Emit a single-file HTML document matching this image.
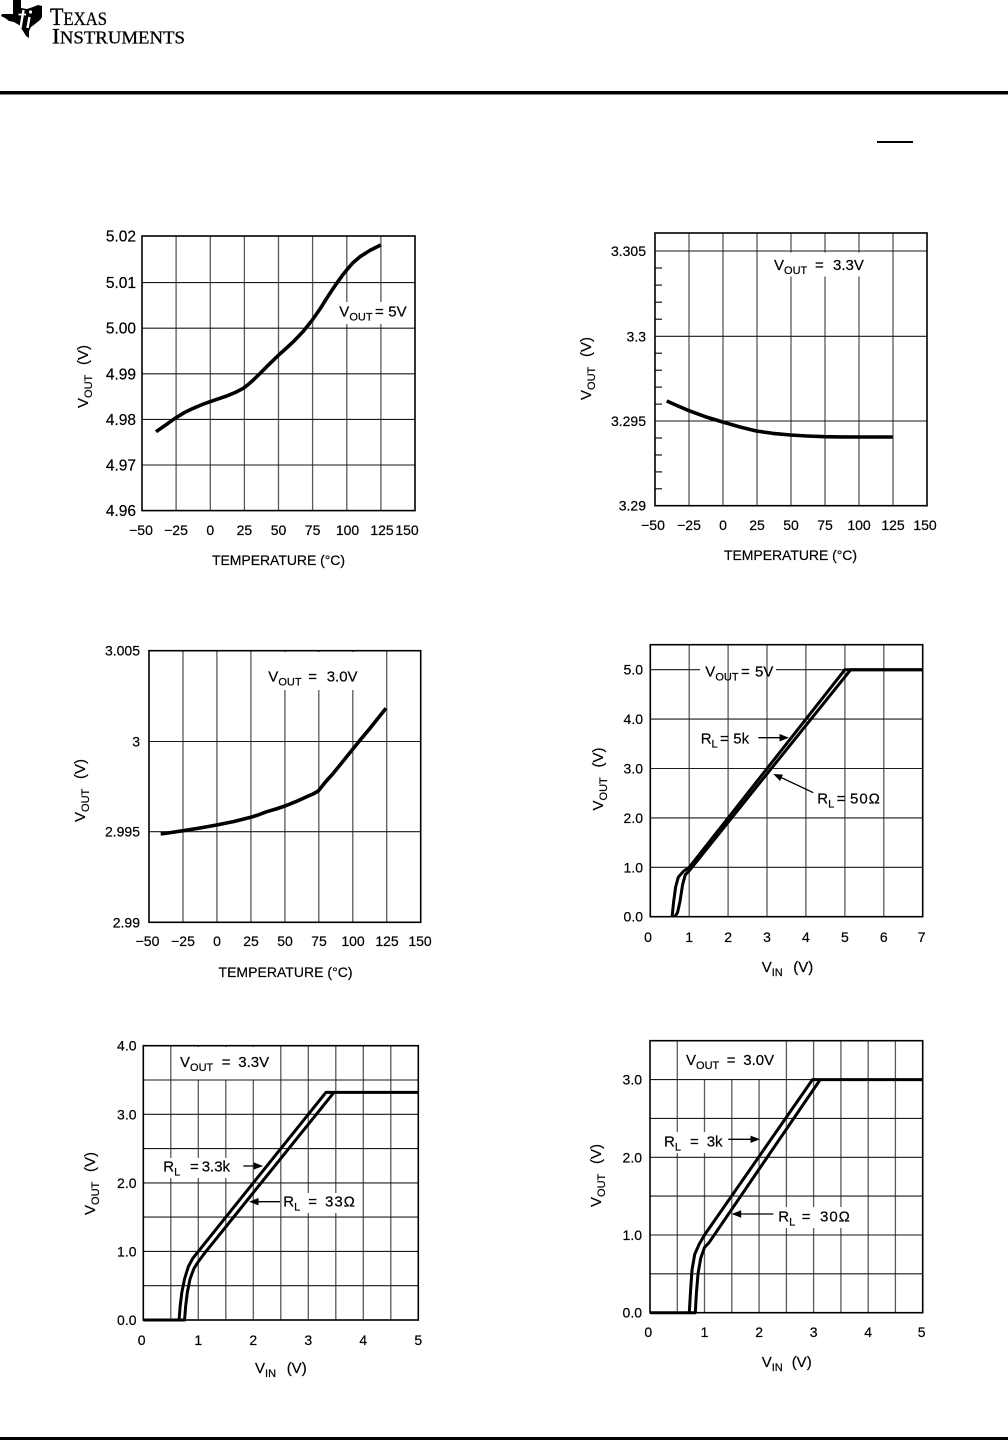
<!DOCTYPE html>
<html><head><meta charset="utf-8"><style>
html,body{margin:0;padding:0;background:#fff;}
svg{display:block;}
.gv{stroke:#5a5a5a;stroke-width:1.3;}
.gh{stroke:#1a1a1a;stroke-width:1.1;}
.bx{fill:none;stroke:#000;stroke-width:1.6;}
.tc{fill:none;stroke:#000;stroke-width:3.6;stroke-linejoin:round;stroke-linecap:butt;}
.vc{fill:none;stroke:#000;stroke-width:3;stroke-linejoin:round;stroke-linecap:butt;}
text{font-family:"Liberation Sans",Arial,sans-serif;fill:#000;stroke:#000;stroke-width:0.2px;}
.tk{font-size:14px;}
.lb{font-size:15px;}
.sb{font-size:11px;}
</style></head><body>
<svg width="1008" height="1440" viewBox="0 0 1008 1440" xmlns="http://www.w3.org/2000/svg">
<!-- Header -->
<polygon points="13,0 21,0 21,8 27,9 33,7 38,5 42,6 42,17 40,20 35,24 31,27 29,31 29,38 26,36 23,31 19,25 14,22 9,21 5,18 1,16 2,14 13,14" fill="#000"/>
<line x1="23.5" y1="10" x2="20.5" y2="28" stroke="#fff" stroke-width="2.4"/>
<line x1="18.5" y1="14.5" x2="26" y2="14.5" stroke="#fff" stroke-width="1.8"/>
<line x1="29.5" y1="17" x2="27.5" y2="28" stroke="#fff" stroke-width="2.4"/>
<circle cx="30.5" cy="12" r="1.6" fill="#fff"/>
<text x="50" y="25" textLength="57" lengthAdjust="spacingAndGlyphs" style="font-family:'Liberation Serif',serif;stroke-width:0.3px;"><tspan font-size="25">T</tspan><tspan font-size="19">EXAS</tspan></text>
<text x="52" y="43.3" textLength="133" lengthAdjust="spacingAndGlyphs" style="font-family:'Liberation Serif',serif;stroke-width:0.3px;"><tspan font-size="22">I</tspan><tspan font-size="17.5">NSTRUMENTS</tspan></text>
<rect x="0" y="91" width="1008" height="3.5" fill="#000"/>
<rect x="877" y="141" width="36" height="2" fill="#000"/>
<rect x="0" y="1437" width="1008" height="3" fill="#000"/>

<!-- ========== Chart 1 ========== -->
<g>
<line class="gv" x1="176.1" y1="236" x2="176.1" y2="510.6"/>
<line class="gv" x1="210.3" y1="236" x2="210.3" y2="510.6"/>
<line class="gv" x1="244.4" y1="236" x2="244.4" y2="510.6"/>
<line class="gv" x1="278.5" y1="236" x2="278.5" y2="510.6"/>
<line class="gv" x1="312.6" y1="236" x2="312.6" y2="510.6"/>
<line class="gv" x1="346.8" y1="236" x2="346.8" y2="510.6"/>
<line class="gv" x1="380.9" y1="236" x2="380.9" y2="510.6"/>
<line class="gh" x1="142" y1="282.6" x2="415" y2="282.6"/>
<line class="gh" x1="142" y1="328.2" x2="415" y2="328.2"/>
<line class="gh" x1="142" y1="373.8" x2="415" y2="373.8"/>
<line class="gh" x1="142" y1="419.4" x2="415" y2="419.4"/>
<line class="gh" x1="142" y1="465" x2="415" y2="465"/>
<rect class="bx" x="142" y="236" width="273" height="274.6"/>
<rect x="336" y="302" width="73" height="22" fill="#fff"/>
<polyline class="tc" points="156,431.7 165,425.5 175,418.3 184,412.8 193.3,408.3 202,404.6 210,401.7 218,398.9 226.7,396 235,392.6 243.3,388.3 248,384.7 253.3,380 260,373.5 266.7,366.7 272.7,360.8 278.7,355 286,348.5 293.3,341.7 303,331.6 312.3,320 320,309 326.7,298.3 331.7,290.6 336.7,283.3 341.7,276.3 346.7,270 353,262.7 360,256.7 370,250.4 380.7,245"/>
<text class="lb" x="339.3" y="316.7">V<tspan class="sb" dy="4">OUT</tspan><tspan x="375" dy="-4">=</tspan><tspan x="388.3">5V</tspan></text>
<g text-anchor="end">
<text x="136" y="241.5" font-size="15.5">5.02</text>
<text x="136" y="288.1" font-size="15.5">5.01</text>
<text x="136" y="333.7" font-size="15.5">5.00</text>
<text x="136" y="379.3" font-size="15.5">4.99</text>
<text x="136" y="424.9" font-size="15.5">4.98</text>
<text x="136" y="470.5" font-size="15.5">4.97</text>
<text x="136" y="516.1" font-size="15.5">4.96</text>
</g>
<g text-anchor="middle">
<text class="tk" x="141" y="535">−50</text>
<text class="tk" x="176" y="535">−25</text>
<text class="tk" x="210.3" y="535">0</text>
<text class="tk" x="244.4" y="535">25</text>
<text class="tk" x="278.5" y="535">50</text>
<text class="tk" x="312.6" y="535">75</text>
<text class="tk" x="347.5" y="535">100</text>
<text class="tk" x="382" y="535">125</text>
<text class="tk" x="407" y="535">150</text>
<text class="tk" x="278.5" y="565" textLength="133">TEMPERATURE (°C)</text>
</g>
<g transform="translate(88,408) rotate(-90)"><text class="lb" x="0" y="0">V<tspan class="sb" dy="4">OUT</tspan><tspan x="43" dy="-4">(V)</tspan></text></g>
</g>

<!-- ========== Chart 2 ========== -->
<g>
<line class="gv" x1="689" y1="233" x2="689" y2="505.7"/>
<line class="gv" x1="723" y1="233" x2="723" y2="505.7"/>
<line class="gv" x1="757" y1="233" x2="757" y2="505.7"/>
<line class="gv" x1="791" y1="233" x2="791" y2="505.7"/>
<line class="gv" x1="825" y1="233" x2="825" y2="505.7"/>
<line class="gv" x1="859" y1="233" x2="859" y2="505.7"/>
<line class="gv" x1="893" y1="233" x2="893" y2="505.7"/>
<rect x="769" y="252.5" width="103" height="24" fill="#fff"/>
<line class="gh" x1="655" y1="251" x2="927" y2="251"/>
<line class="gh" x1="655" y1="336.3" x2="927" y2="336.3"/>
<line class="gh" x1="655" y1="421" x2="927" y2="421"/>
<g stroke="#000" stroke-width="1.1">
<line x1="655" y1="268" x2="662" y2="268"/><line x1="655" y1="285.1" x2="662" y2="285.1"/><line x1="655" y1="302.2" x2="662" y2="302.2"/><line x1="655" y1="319.2" x2="662" y2="319.2"/>
<line x1="655" y1="353.2" x2="662" y2="353.2"/><line x1="655" y1="370.2" x2="662" y2="370.2"/><line x1="655" y1="387.1" x2="662" y2="387.1"/><line x1="655" y1="404.1" x2="662" y2="404.1"/>
<line x1="655" y1="438" x2="662" y2="438"/><line x1="655" y1="455" x2="662" y2="455"/><line x1="655" y1="471.9" x2="662" y2="471.9"/><line x1="655" y1="488.8" x2="662" y2="488.8"/>
</g>
<rect class="bx" x="655" y="233" width="272" height="272.7"/>
<polyline class="tc" points="666.7,401 678,406 689,410.7 705,416.6 722.7,422 740,427 756.3,431 773,433.4 790.3,435 807,436 824.7,436.7 840,436.9 858.3,437 892.7,437"/>
<text class="lb" x="774" y="270">V<tspan class="sb" dy="4">OUT</tspan><tspan x="815" dy="-4">=</tspan><tspan x="833">3.3V</tspan></text>
<g text-anchor="end">
<text class="tk" x="646" y="256">3.305</text>
<text class="tk" x="646" y="341.3">3.3</text>
<text class="tk" x="646" y="426">3.295</text>
<text class="tk" x="646" y="510.7">3.29</text>
</g>
<g text-anchor="middle">
<text class="tk" x="653" y="530">−50</text>
<text class="tk" x="689" y="530">−25</text>
<text class="tk" x="723" y="530">0</text>
<text class="tk" x="757" y="530">25</text>
<text class="tk" x="791" y="530">50</text>
<text class="tk" x="825" y="530">75</text>
<text class="tk" x="859" y="530">100</text>
<text class="tk" x="893" y="530">125</text>
<text class="tk" x="925" y="530">150</text>
<text class="tk" x="790.5" y="560" textLength="133">TEMPERATURE (°C)</text>
</g>
<g transform="translate(591,400) rotate(-90)"><text class="lb" x="0" y="0">V<tspan class="sb" dy="4">OUT</tspan><tspan x="43" dy="-4">(V)</tspan></text></g>
</g>

<!-- ========== Chart 3 ========== -->
<g>
<line class="gv" x1="183" y1="650.7" x2="183" y2="922.3"/>
<line class="gv" x1="216.9" y1="650.7" x2="216.9" y2="922.3"/>
<line class="gv" x1="250.9" y1="650.7" x2="250.9" y2="922.3"/>
<line class="gv" x1="284.9" y1="650.7" x2="284.9" y2="922.3"/>
<line class="gv" x1="318.8" y1="650.7" x2="318.8" y2="922.3"/>
<line class="gv" x1="352.8" y1="650.7" x2="352.8" y2="922.3"/>
<line class="gv" x1="386.7" y1="650.7" x2="386.7" y2="922.3"/>
<rect x="264" y="652" width="98" height="38" fill="#fff"/>
<line class="gh" x1="149" y1="741.5" x2="420.7" y2="741.5"/>
<line class="gh" x1="149" y1="831.7" x2="420.7" y2="831.7"/>
<rect class="bx" x="149" y="650.7" width="271.7" height="271.6"/>
<polyline class="tc" points="160.7,834 172,832.4 183.3,830.7 200,828 216.7,825 234,821.5 250.7,817.3 258,815 266.7,811.7 276,809 285,806 296,801.6 306.7,796.7 313,794 318.3,791 325,782.5 333.3,773.3 343,761.3 352.7,749.3 361,739 370,728.3 378,718.3 386,708.3"/>
<text class="lb" x="268.3" y="681.7">V<tspan class="sb" dy="4">OUT</tspan><tspan x="308.3" dy="-4">=</tspan><tspan x="326.7">3.0V</tspan></text>
<g text-anchor="end">
<text class="tk" x="140" y="655.7">3.005</text>
<text class="tk" x="140" y="746.5">3</text>
<text class="tk" x="140" y="836.7">2.995</text>
<text class="tk" x="140" y="927.3">2.99</text>
</g>
<g text-anchor="middle">
<text class="tk" x="147.5" y="946">−50</text>
<text class="tk" x="183" y="946">−25</text>
<text class="tk" x="217" y="946">0</text>
<text class="tk" x="251" y="946">25</text>
<text class="tk" x="285" y="946">50</text>
<text class="tk" x="319" y="946">75</text>
<text class="tk" x="353" y="946">100</text>
<text class="tk" x="387" y="946">125</text>
<text class="tk" x="420" y="946">150</text>
<text class="tk" x="285.5" y="977" textLength="134">TEMPERATURE (°C)</text>
</g>
<g transform="translate(85,822) rotate(-90)"><text class="lb" x="0" y="0">V<tspan class="sb" dy="4">OUT</tspan><tspan x="43" dy="-4">(V)</tspan></text></g>
</g>

<!-- ========== Chart 4 ========== -->
<g>
<line class="gv" x1="689.2" y1="644.7" x2="689.2" y2="916.7"/>
<line class="gv" x1="728.1" y1="644.7" x2="728.1" y2="916.7"/>
<line class="gv" x1="767" y1="644.7" x2="767" y2="916.7"/>
<line class="gv" x1="805.9" y1="644.7" x2="805.9" y2="916.7"/>
<line class="gv" x1="844.9" y1="644.7" x2="844.9" y2="916.7"/>
<line class="gv" x1="883.8" y1="644.7" x2="883.8" y2="916.7"/>
<line class="gh" x1="650.3" y1="867.3" x2="922.7" y2="867.3"/>
<line class="gh" x1="650.3" y1="817.9" x2="922.7" y2="817.9"/>
<line class="gh" x1="650.3" y1="768.5" x2="922.7" y2="768.5"/>
<line class="gh" x1="650.3" y1="719.1" x2="922.7" y2="719.1"/>
<line class="gh" x1="650.3" y1="669.7" x2="700" y2="669.7"/>
<line class="gh" x1="776" y1="669.7" x2="922.7" y2="669.7"/>
<rect class="bx" x="650.3" y="644.7" width="272.4" height="272"/>
<polyline class="vc" points="672.1,916.7 673.6,901.9 675.6,887.1 678.3,877.2 683.4,871.3 689.2,867.3 844.9,669.7 922.7,669.7"/>
<polyline class="vc" points="674.8,916.7 677.5,912.7 679.9,901.9 682.6,884.6 685.3,874.7 689.2,870.8 850.7,669.7 922.7,669.7"/>
<text class="lb" x="705.3" y="676.7">V<tspan class="sb" dy="4">OUT</tspan><tspan x="741" dy="-4">=</tspan><tspan x="755">5V</tspan></text>
<text class="lb" x="700.7" y="743.3">R<tspan class="sb" dy="4">L</tspan><tspan x="720" dy="-4">=</tspan><tspan x="733.3">5k</tspan></text>
<line x1="758.3" y1="737.7" x2="781" y2="737.7" stroke="#000" stroke-width="1.3"/>
<polygon points="789,737.7 779.5,734 779.5,741.4" fill="#000"/>
<text class="lb" x="817.3" y="803.3">R<tspan class="sb" dy="4">L</tspan><tspan x="836.7" dy="-4">=</tspan><tspan x="850" letter-spacing="1">50Ω</tspan></text>
<line x1="813.3" y1="792.7" x2="780" y2="777" stroke="#000" stroke-width="1.3"/>
<polygon points="773.3,774 783,774.6 780,781" fill="#000"/>
<g text-anchor="end">
<text class="tk" x="643" y="674.7">5.0</text>
<text class="tk" x="643" y="724.1">4.0</text>
<text class="tk" x="643" y="773.5">3.0</text>
<text class="tk" x="643" y="822.9">2.0</text>
<text class="tk" x="643" y="872.3">1.0</text>
<text class="tk" x="643" y="921.7">0.0</text>
</g>
<g text-anchor="middle">
<text class="tk" x="648" y="942">0</text>
<text class="tk" x="689.2" y="942">1</text>
<text class="tk" x="728.1" y="942">2</text>
<text class="tk" x="767" y="942">3</text>
<text class="tk" x="805.9" y="942">4</text>
<text class="tk" x="844.9" y="942">5</text>
<text class="tk" x="883.8" y="942">6</text>
<text class="tk" x="921.7" y="942">7</text>
</g>
<text class="lb" x="761.7" y="972">V<tspan class="sb" dy="4">IN</tspan><tspan x="793.3" dy="-4">(V)</tspan></text>
<g transform="translate(603,810.5) rotate(-90)"><text class="lb" x="0" y="0">V<tspan class="sb" dy="4">OUT</tspan><tspan x="43" dy="-4">(V)</tspan></text></g>
</g>

<!-- ========== Chart 5 ========== -->
<g>
<line class="gv" x1="170.8" y1="1045.7" x2="170.8" y2="1320"/>
<line class="gv" x1="198.3" y1="1045.7" x2="198.3" y2="1320"/>
<line class="gv" x1="225.8" y1="1045.7" x2="225.8" y2="1320"/>
<line class="gv" x1="253.3" y1="1045.7" x2="253.3" y2="1320"/>
<line class="gv" x1="280.8" y1="1045.7" x2="280.8" y2="1320"/>
<line class="gv" x1="308.3" y1="1045.7" x2="308.3" y2="1320"/>
<line class="gv" x1="335.8" y1="1045.7" x2="335.8" y2="1320"/>
<line class="gv" x1="363.3" y1="1045.7" x2="363.3" y2="1320"/>
<line class="gv" x1="390.8" y1="1045.7" x2="390.8" y2="1320"/>
<rect x="175" y="1047" width="100" height="32.5" fill="#fff"/>
<rect x="161" y="1158" width="82" height="20" fill="#fff"/>
<rect x="282" y="1193" width="76" height="20" fill="#fff"/>
<line class="gh" x1="143.3" y1="1285.7" x2="418.3" y2="1285.7"/>
<line class="gh" x1="143.3" y1="1251.4" x2="418.3" y2="1251.4"/>
<line class="gh" x1="143.3" y1="1217.1" x2="418.3" y2="1217.1"/>
<line class="gh" x1="143.3" y1="1182.9" x2="418.3" y2="1182.9"/>
<line class="gh" x1="143.3" y1="1148.6" x2="418.3" y2="1148.6"/>
<line class="gh" x1="143.3" y1="1114.3" x2="418.3" y2="1114.3"/>
<line class="gh" x1="143.3" y1="1080" x2="418.3" y2="1080"/>
<rect class="bx" x="143.3" y="1045.7" width="275" height="274.3"/>
<polyline class="vc" points="143.3,1320 179.05,1320 180.15,1306.3 181.8,1292.6 184.55,1278.9 188.4,1266.5 192.8,1258.3 198.3,1251.4 325.9,1092.4 418.3,1092.4"/>
<polyline class="vc" points="179,1320 184.55,1320 185.65,1306.3 187.3,1292.6 190.05,1278.9 193.9,1268.6 198.3,1261.7 203.8,1254.2 333.95,1092.4"/>
<text class="lb" x="180" y="1067">V<tspan class="sb" dy="4">OUT</tspan><tspan x="221.7" dy="-4">=</tspan><tspan x="238.3">3.3V</tspan></text>
<text class="lb" x="163.3" y="1171.7">R<tspan class="sb" dy="4">L</tspan><tspan x="190" dy="-4">=</tspan><tspan x="201.7">3.3k</tspan></text>
<line x1="243.3" y1="1166" x2="255" y2="1166" stroke="#000" stroke-width="1.3"/>
<polygon points="263,1166 253.5,1162.3 253.5,1169.7" fill="#000"/>
<text class="lb" x="283.3" y="1206.7">R<tspan class="sb" dy="4">L</tspan><tspan x="308.3" dy="-4">=</tspan><tspan x="325" letter-spacing="1">33Ω</tspan></text>
<line x1="280" y1="1201.7" x2="257" y2="1201.7" stroke="#000" stroke-width="1.3"/>
<polygon points="249,1201.7 258.5,1198 258.5,1205.4" fill="#000"/>
<g text-anchor="end">
<text class="tk" x="136.5" y="1050.7">4.0</text>
<text class="tk" x="136.5" y="1119.3">3.0</text>
<text class="tk" x="136.5" y="1187.9">2.0</text>
<text class="tk" x="136.5" y="1256.4">1.0</text>
<text class="tk" x="136.5" y="1325">0.0</text>
</g>
<g text-anchor="middle">
<text class="tk" x="141.7" y="1345">0</text>
<text class="tk" x="198.3" y="1345">1</text>
<text class="tk" x="253.3" y="1345">2</text>
<text class="tk" x="308.3" y="1345">3</text>
<text class="tk" x="363.3" y="1345">4</text>
<text class="tk" x="418.3" y="1345">5</text>
</g>
<text class="lb" x="255" y="1373">V<tspan class="sb" dy="4">IN</tspan><tspan x="286.7" dy="-4">(V)</tspan></text>
<g transform="translate(95,1215) rotate(-90)"><text class="lb" x="0" y="0">V<tspan class="sb" dy="4">OUT</tspan><tspan x="43" dy="-4">(V)</tspan></text></g>
</g>

<!-- ========== Chart 6 ========== -->
<g>
<line class="gv" x1="677.3" y1="1040.7" x2="677.3" y2="1312.7"/>
<line class="gv" x1="704.5" y1="1040.7" x2="704.5" y2="1312.7"/>
<line class="gv" x1="731.8" y1="1040.7" x2="731.8" y2="1312.7"/>
<line class="gv" x1="759.1" y1="1040.7" x2="759.1" y2="1312.7"/>
<line class="gv" x1="786.4" y1="1040.7" x2="786.4" y2="1312.7"/>
<line class="gv" x1="813.6" y1="1040.7" x2="813.6" y2="1312.7"/>
<line class="gv" x1="840.9" y1="1040.7" x2="840.9" y2="1312.7"/>
<line class="gv" x1="868.2" y1="1040.7" x2="868.2" y2="1312.7"/>
<line class="gv" x1="895.4" y1="1040.7" x2="895.4" y2="1312.7"/>
<rect x="679" y="1041.5" width="105" height="37.5" fill="#fff"/>
<rect x="662" y="1132" width="63" height="21" fill="#fff"/>
<rect x="776" y="1207" width="77" height="21" fill="#fff"/>
<line class="gh" x1="650" y1="1273.8" x2="922.7" y2="1273.8"/>
<line class="gh" x1="650" y1="1235" x2="922.7" y2="1235"/>
<line class="gh" x1="650" y1="1196.1" x2="922.7" y2="1196.1"/>
<line class="gh" x1="650" y1="1157.3" x2="922.7" y2="1157.3"/>
<line class="gh" x1="650" y1="1118.4" x2="922.7" y2="1118.4"/>
<line class="gh" x1="650" y1="1079.6" x2="922.7" y2="1079.6"/>
<rect class="bx" x="650" y="1040.7" width="272.7" height="272"/>
<polyline class="vc" points="650,1312.7 689.3,1312.7 690.4,1293.3 692,1270 694.7,1254.4 699.1,1244.3 704.5,1235 812.5,1079.6 922.7,1079.6"/>
<polyline class="vc" points="689,1312.7 695.3,1312.7 696.4,1293.3 698,1273.8 700.7,1258.3 704.5,1247.4 708.9,1242.8 820.2,1079.6"/>
<text class="lb" x="686" y="1065">V<tspan class="sb" dy="4">OUT</tspan><tspan x="726.7" dy="-4">=</tspan><tspan x="743.3">3.0V</tspan></text>
<text class="lb" x="664" y="1146.7">R<tspan class="sb" dy="4">L</tspan><tspan x="690" dy="-4">=</tspan><tspan x="706.7">3k</tspan></text>
<line x1="728.3" y1="1139.3" x2="752" y2="1139.3" stroke="#000" stroke-width="1.3"/>
<polygon points="760,1139.3 750.5,1135.6 750.5,1143" fill="#000"/>
<text class="lb" x="778.3" y="1221.7">R<tspan class="sb" dy="4">L</tspan><tspan x="801.7" dy="-4">=</tspan><tspan x="820" letter-spacing="1">30Ω</tspan></text>
<line x1="773.3" y1="1214" x2="740" y2="1214" stroke="#000" stroke-width="1.3"/>
<polygon points="731.7,1214 741.2,1210.3 741.2,1217.7" fill="#000"/>
<g text-anchor="end">
<text class="tk" x="642" y="1084.6">3.0</text>
<text class="tk" x="642" y="1162.3">2.0</text>
<text class="tk" x="642" y="1240">1.0</text>
<text class="tk" x="642" y="1317.7">0.0</text>
</g>
<g text-anchor="middle">
<text class="tk" x="648.3" y="1337">0</text>
<text class="tk" x="704.5" y="1337">1</text>
<text class="tk" x="759.1" y="1337">2</text>
<text class="tk" x="813.6" y="1337">3</text>
<text class="tk" x="868.2" y="1337">4</text>
<text class="tk" x="921.7" y="1337">5</text>
</g>
<text class="lb" x="761.7" y="1367">V<tspan class="sb" dy="4">IN</tspan><tspan x="791.7" dy="-4">(V)</tspan></text>
<g transform="translate(601,1207) rotate(-90)"><text class="lb" x="0" y="0">V<tspan class="sb" dy="4">OUT</tspan><tspan x="43" dy="-4">(V)</tspan></text></g>
</g>
</svg>
</body></html>
